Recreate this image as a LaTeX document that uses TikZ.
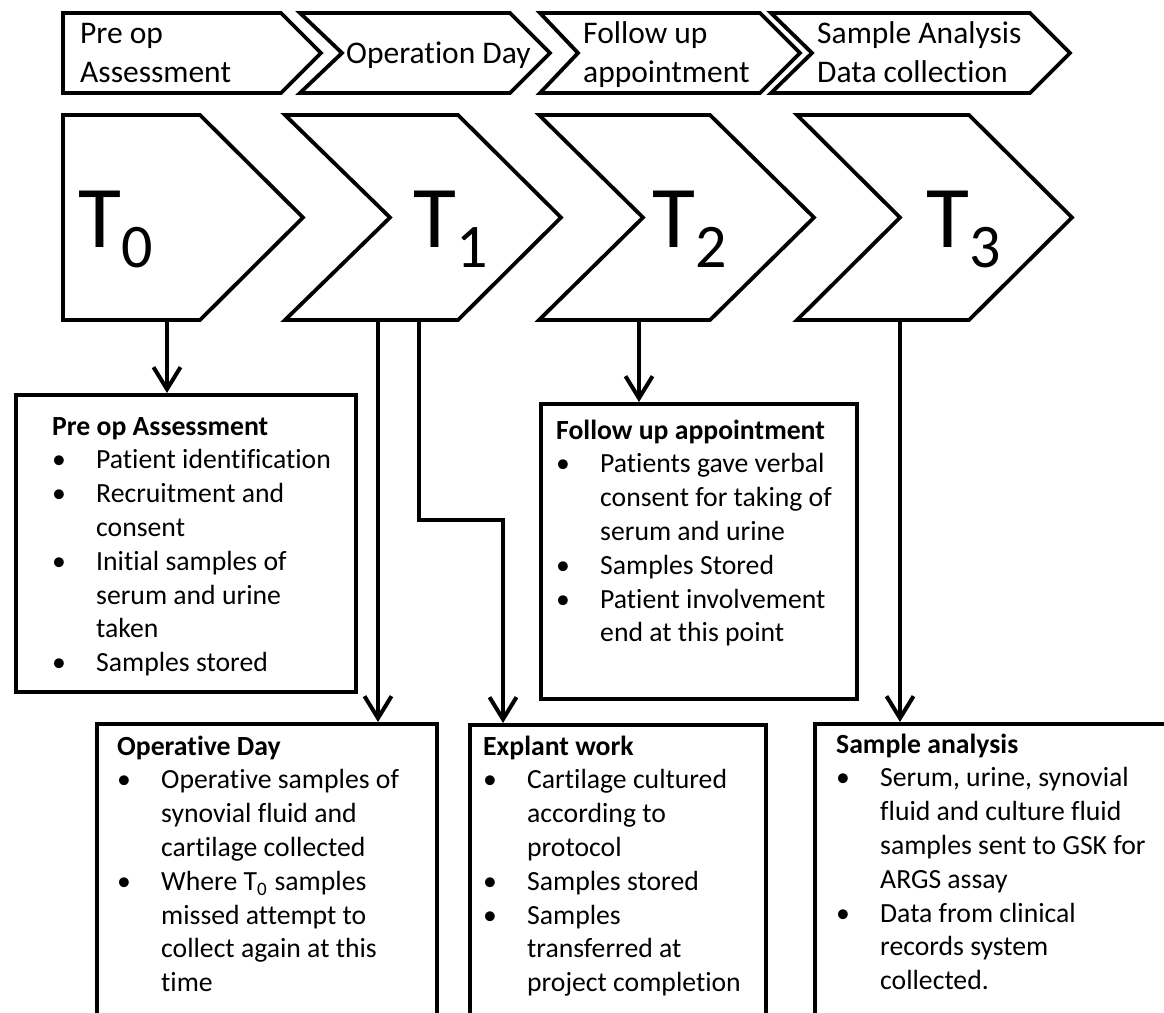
\documentclass[tikz,border=0pt]{standalone}
\usepackage{fontspec}
\setmainfont{Carlito}[Ligatures=NoCommon]
\usetikzlibrary{arrows.meta}
\newcommand\tsub[1]{\raisebox{-20pt}{\fontsize{62}{62}\selectfont #1}}
\newcommand\ztsub{\raisebox{-5pt}{\fontsize{19}{19}\selectfont 0}}
\newcommand\lineit[2]{\if#1h\textbf{#2}\else\if#1b\makebox[44pt][l]{\textbullet}#2\else\hspace{44pt}#2\fi\fi}
\newcommand\blines[4]{%
  \foreach \k/\t [count=\i from 0] in {#4} {
    \node[bodytxt] (#1-\i) at ({#2},{#3+33.8*\i}) {\lineit{\k}{\t}};
  }}
\tikzset{
  shp/.style={draw=black, line width=3.8pt, line join=miter, fill=white},
  conn/.style={line width=4pt, line join=miter},
  arr/.style={conn, -{Straight Barb[length=22pt,width=27pt]}},
  boxs/.style={draw, line width=3.8pt, anchor=north west, inner sep=0pt},
  toptxt/.style={anchor=base west, inner sep=0pt, font=\fontsize{31.5}{38}\selectfont},
  bodytxt/.style={anchor=base west, inner sep=0pt, font=\fontsize{27.7}{33.8}\selectfont},
  bigt/.style={anchor=base west, inner sep=0pt, font=\fontsize{88}{88}\selectfont},
}
\begin{document}
\begin{tikzpicture}[x=1pt,y=-1pt]
\useasboundingbox (0,0) rectangle (1164,1012);
\clip (0,0) rectangle (1164,1012);
\fill[white] (0,0) rectangle (1164,1012);

% top row
\draw[shp] (63,13) -- (281,13) -- (321,53) -- (281,93) -- (63,93) -- cycle;
\draw[shp] (300,13) -- (510,13) -- (550,53) -- (510,93) -- (300,93) -- (342,53) -- cycle;
\draw[shp] (540,13) -- (760,13) -- (800,53) -- (760,93) -- (540,93) -- (578,53) -- cycle;
\draw[shp] (771,13) -- (1030,13) -- (1070,53) -- (1030,93) -- (771,93) -- (812,53) -- cycle;
\node[toptxt] (s1a) at (80,43) {Pre op};
\node[toptxt] (s1b) at (80,82) {Assessment};
\node[toptxt] (s2a) at (346,63) {Operation Day};
\node[toptxt] (s3a) at (583,43) {Follow up};
\node[toptxt] (s3b) at (583,82) {appointment};
\node[toptxt] (s4a) at (817,43) {Sample Analysis};
\node[toptxt] (s4b) at (817,82) {Data collection};

% T row
\draw[shp] (63,115) -- (200,115) -- (303,217.5) -- (200,320) -- (63,320) -- cycle;
\draw[shp] (285,115) -- (458,115) -- (561,217.5) -- (458,320) -- (285,320) -- (390,217.5) -- cycle;
\draw[shp] (539,115) -- (710,115) -- (814,217.5) -- (710,320) -- (539,320) -- (643,217.5) -- cycle;
\draw[shp] (797,115) -- (969,115) -- (1072,217.5) -- (969,320) -- (797,320) -- (900,217.5) -- cycle;
\node[bigt] (t0) at (78,247) {T\tsub{0}};
\node[bigt] (t1) at (413,247) {T\tsub{1}};
\node[bigt] (t2) at (652,247) {T\tsub{2}};
\node[bigt] (t3) at (926,247) {T\tsub{3}};

% boxes
\node[boxs, minimum width=340pt, minimum height=297pt] (pre) at (14,393) {};
\node[boxs, minimum width=316pt, minimum height=295pt] (fol) at (539,402) {};
\node[boxs, minimum width=340pt, minimum height=330pt] (ope) at (95,722) {};
\node[boxs, minimum width=296pt, minimum height=330pt] (exp) at (468,723) {};
\node[boxs, minimum width=420pt, minimum height=330pt] (sam) at (813,722) {};

% connectors
\coordinate (c0) at (167,320);
\coordinate (c1a) at (378,320);
\coordinate (c1b) at (419,320);
\coordinate (c1e) at (503,520);
\coordinate (c2) at (639,320);
\coordinate (c3) at (900,320);
\draw[arr] (c0) -- (c0 |- pre.north);
\draw[arr] (c1a) -- (c1a |- ope.north);
\draw[arr] (c1b) |- (c1e) -- (c1e |- exp.north);
\draw[arr] (c2) -- (c2 |- fol.north);
\draw[arr] (c3) -- (c3 |- sam.north);

% texts
\blines{pre}{52}{435}{h/Pre op Assessment, b/Patient identification, b/Recruitment and, c/consent, b/Initial samples of, c/serum and urine, c/taken, b/Samples stored}
\blines{fol}{556}{439}{h/Follow up appointment, b/Patients gave verbal, c/consent for taking of, c/serum and urine, b/Samples Stored, b/Patient involvement, c/end at this point}
\blines{ope}{117}{755}{h/Operative Day, b/Operative samples of, c/synovial fluid and, c/cartilage collected, b/{Where T\ztsub\hspace{8pt}samples}, c/missed attempt to, c/collect again at this, c/time}
\blines{exp}{483}{755}{h/Explant work, b/Cartilage cultured, c/according to, c/protocol, b/Samples stored, b/Samples, c/transferred at, c/project completion}
\blines{sam}{836}{753}{h/Sample analysis, b/{Serum, urine, synovial}, c/fluid and culture fluid, c/samples sent to GSK for, c/ARGS assay, b/Data from clinical, c/records system, c/collected.}
\end{tikzpicture}
\end{document}
